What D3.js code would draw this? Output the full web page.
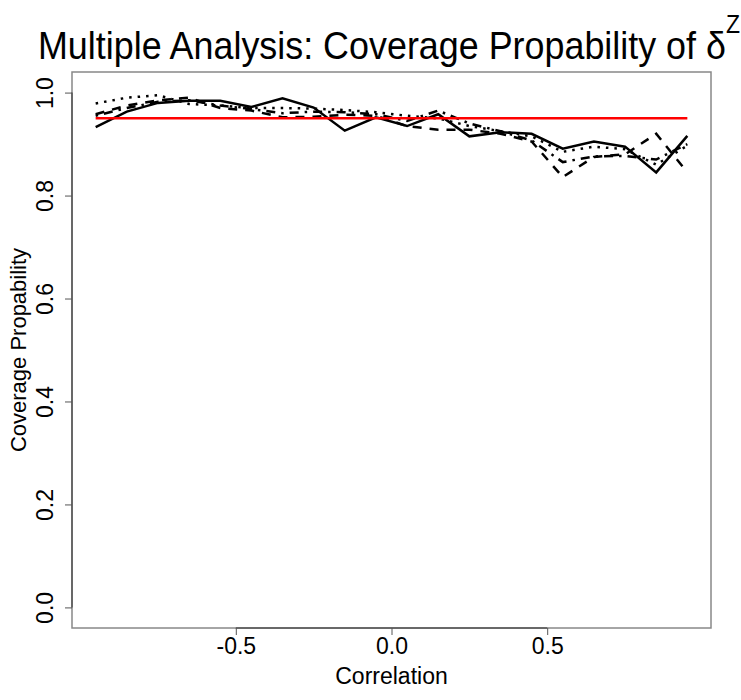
<!DOCTYPE html>
<html lang="en">
<head>
    <meta charset="UTF-8">
    <title>Multiple Analysis: Coverage Propability</title>
    <script src="https://d3js.org/d3.v7.min.js"></script>
    <style>
        body { margin: 0; background: #fff; }
        svg text { font-family: "Liberation Sans", Arial, Helvetica, sans-serif; fill: #000; }
    </style>
</head>
<body>
    <svg id="viz" width="741" height="700"></svg>

    <script>
        // Correlation values (x) shared by all series
        const correlation = [-0.95, -0.85, -0.75, -0.65, -0.55, -0.45, -0.35, -0.25, -0.15, -0.05,
                              0.05,  0.15,  0.25,  0.35,  0.45,  0.55,  0.65,  0.75,  0.85,  0.95];

        // Coverage probability series
        const solid   = [0.933, 0.963, 0.980, 0.984, 0.984, 0.972, 0.989, 0.971, 0.926, 0.952,
                         0.935, 0.958, 0.915, 0.923, 0.920, 0.891, 0.905, 0.895, 0.845, 0.916];
        const dashed  = [0.958, 0.975, 0.985, 0.990, 0.970, 0.965, 0.952, 0.953, 0.957, 0.955,
                         0.935, 0.928, 0.928, 0.920, 0.905, 0.836, 0.875, 0.880, 0.920, 0.845];
        const dotted  = [0.979, 0.990, 0.995, 0.978, 0.975, 0.970, 0.970, 0.969, 0.966, 0.962,
                         0.955, 0.950, 0.935, 0.925, 0.915, 0.885, 0.895, 0.890, 0.860, 0.897];
        const dotdash = [0.955, 0.970, 0.982, 0.985, 0.975, 0.968, 0.960, 0.963, 0.962, 0.958,
                         0.945, 0.965, 0.940, 0.925, 0.907, 0.865, 0.876, 0.877, 0.870, 0.900];
        const nominal = 0.95;

        const xTicks = [-0.5, 0.0, 0.5];
        const yTicks = [0.0, 0.2, 0.4, 0.6, 0.8, 1.0];

        const series = [
            { values: solid,   dash: null },
            { values: dashed,  dash: "9,8" },
            { values: dotted,  dash: "2.5,6" },
            { values: dotdash, dash: "2.5,6,9,6" }
        ];

        // Plot region (R style: data range padded by 4%)
        const plot = { left: 72, right: 711, top: 72, bottom: 628 };
        const xExt = d3.extent(correlation);
        const xPad = (xExt[1] - xExt[0]) * 0.04;
        const x = d3.scaleLinear().domain([xExt[0] - xPad, xExt[1] + xPad]).range([plot.left, plot.right]);
        const y = d3.scaleLinear().domain([-0.04, 1.04]).range([plot.bottom, plot.top]);

        // R prints a plain hyphen for negatives
        const fmt = d => d3.format(".1f")(d).replace("−", "-");

        const svg = d3.select("#viz");

        // Box round the plot
        svg.append("rect")
            .attr("x", plot.left).attr("y", plot.top)
            .attr("width", plot.right - plot.left).attr("height", plot.bottom - plot.top)
            .attr("fill", "none").attr("stroke", "#888").attr("stroke-width", 1.5);

        // X axis
        const xAxis = svg.append("g").attr("transform", `translate(0,${plot.bottom})`)
            .call(d3.axisBottom(x).tickValues(xTicks).tickSize(7).tickPadding(3)
                .tickFormat(fmt).tickSizeOuter(0));
        xAxis.select(".domain").attr("d", `M${x(xTicks[0])},0H${x(xTicks[xTicks.length - 1])}`)
            .attr("stroke", "#555").attr("stroke-width", 1.5);
        xAxis.selectAll(".tick line").attr("stroke", "#555");
        xAxis.selectAll("text").attr("font-size", 23).style("font-family", "Liberation Sans, Arial, sans-serif");

        // Y axis, labels turned like R's default
        const yAxis = svg.append("g").attr("transform", `translate(${plot.left},0)`)
            .call(d3.axisLeft(y).tickValues(yTicks).tickSize(7)
                .tickFormat(fmt).tickSizeOuter(0));
        yAxis.select(".domain").attr("d", `M0,${y(yTicks[0])}V${y(yTicks[yTicks.length - 1])}`)
            .attr("stroke", "#555").attr("stroke-width", 1.5);
        yAxis.selectAll(".tick line").attr("stroke", "#555");
        yAxis.selectAll("text")
            .attr("x", null)
            .attr("text-anchor", "middle")
            .attr("transform", "translate(-27,0) rotate(-90)")
            .attr("dy", "0.35em")
            .attr("font-size", 23)
            .style("font-family", "Liberation Sans, Arial, sans-serif");

        // Axis titles
        svg.append("text")
            .attr("x", (plot.left + plot.right) / 2).attr("y", 684)
            .attr("text-anchor", "middle").attr("font-size", 23)
            .text("Correlation");
        svg.append("text")
            .attr("transform", `translate(26,${(plot.top + plot.bottom) / 2}) rotate(-90)`)
            .attr("text-anchor", "middle").attr("font-size", 22)
            .text("Coverage Propability");

        // Main title with superscript, narrowed a little like R's png text
        const title = svg.append("text")
            .attr("transform", "translate(389,59) scale(0.92,1)")
            .attr("text-anchor", "middle").attr("font-size", 39);
        title.append("tspan").text("Multiple Analysis: Coverage Propability of δ");
        title.append("tspan").attr("dy", -26).attr("font-size", 25).text("Z");

        // Series lines
        const line = d3.line()
            .x((d, i) => x(correlation[i]))
            .y(d => y(d));

        svg.selectAll("path.series")
            .data(series)
            .join("path")
            .attr("class", "series")
            .attr("d", d => line(d.values))
            .attr("fill", "none")
            .attr("stroke", "#000")
            .attr("stroke-width", 2.5)
            .attr("stroke-dasharray", d => d.dash);

        // Nominal level
        svg.append("path")
            .attr("d", line(correlation.map(() => nominal)))
            .attr("fill", "none")
            .attr("stroke", "#ff0000")
            .attr("stroke-width", 2.5);
    </script>
</body>
</html>
